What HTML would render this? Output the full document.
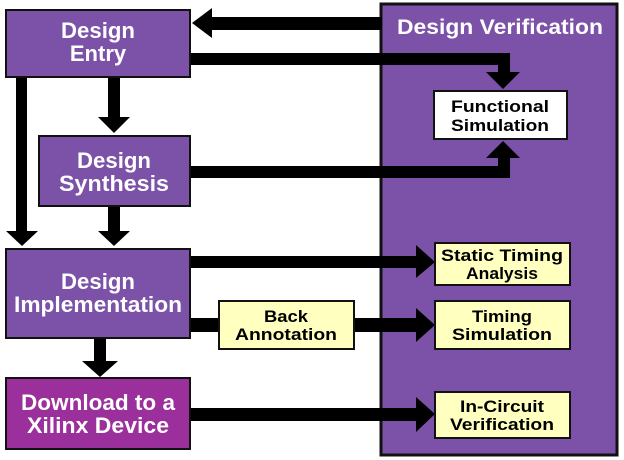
<!DOCTYPE html>
<html><head><style>body{margin:0;background:#fff}svg{display:block}</style></head><body>
<svg width="624" height="460" viewBox="0 0 624 460" xmlns="http://www.w3.org/2000/svg" font-family="Liberation Sans, sans-serif" font-weight="bold" text-anchor="middle">
<rect x="381" y="4" width="236" height="451" fill="#7b52a8" stroke="#111" stroke-width="3"/>
<text x="500" y="34" fill="#fff" font-size="21" textLength="206" lengthAdjust="spacingAndGlyphs">Design Verification</text>
<g fill="#000">
<rect x="210" y="17" width="172" height="13"/><polygon points="192,23 212,8 212,38"/>
<rect x="190" y="53" width="320" height="12"/><rect x="498" y="53" width="12" height="22"/><polygon points="486,72 520,72 503,89"/>
<rect x="190" y="166" width="320" height="12"/><rect x="498" y="156" width="12" height="22"/><polygon points="486,158 520,158 503,141"/>
<rect x="16" y="77" width="11" height="157"/><polygon points="6,231 38,231 22,246"/>
<rect x="108" y="77" width="12" height="43"/><polygon points="98,117 130,117 114,133"/>
<rect x="108" y="206" width="12" height="28"/><polygon points="98,231 130,231 114,246"/>
<rect x="190" y="256" width="230" height="12"/><polygon points="416,245 416,278 435,262"/>
<rect x="190" y="318" width="230" height="14"/><polygon points="416,308 416,342 435,325"/>
<rect x="94" y="338" width="12" height="26"/><polygon points="82,361 118,361 100,377"/>
<rect x="190" y="408" width="230" height="13"/><polygon points="416,397 416,432 435,414"/>
</g>
<g stroke="#111" stroke-width="2">
<rect x="6" y="10" width="184" height="67" fill="#7b52a8"/>
<rect x="39" y="136" width="151" height="70" fill="#7b52a8"/>
<rect x="6" y="249" width="184" height="89" fill="#7b52a8"/>
<rect x="6" y="378" width="184" height="71" fill="#9b2f9b"/>
<rect x="434" y="91" width="133" height="48" fill="#fff"/>
<rect x="435" y="243" width="135" height="42" fill="#ffffc0"/>
<rect x="219" y="301" width="135" height="48" fill="#ffffc0"/>
<rect x="435" y="301" width="135" height="48" fill="#ffffc0"/>
<rect x="435" y="392" width="135" height="46" fill="#ffffc0"/>
</g>
<g fill="#fff" font-size="22">
<text x="98" y="38" textLength="74" lengthAdjust="spacingAndGlyphs">Design</text><text x="98" y="61">Entry</text>
<text x="114" y="168" textLength="74" lengthAdjust="spacingAndGlyphs">Design</text><text x="114" y="191" textLength="110" lengthAdjust="spacingAndGlyphs">Synthesis</text>
<text x="98" y="289" textLength="74" lengthAdjust="spacingAndGlyphs">Design</text><text x="98" y="312" textLength="168" lengthAdjust="spacingAndGlyphs">Implementation</text>
<text x="98" y="410" textLength="154" lengthAdjust="spacingAndGlyphs">Download to a</text><text x="98" y="433" textLength="142" lengthAdjust="spacingAndGlyphs">Xilinx Device</text>
</g>
<g fill="#000" font-size="17">
<text x="500" y="112" textLength="98" lengthAdjust="spacingAndGlyphs">Functional</text><text x="500" y="131" textLength="98" lengthAdjust="spacingAndGlyphs">Simulation</text>
<text x="502" y="261" textLength="122" lengthAdjust="spacingAndGlyphs">Static Timing</text><text x="502" y="279" textLength="72" lengthAdjust="spacingAndGlyphs">Analysis</text>
<text x="286" y="322" textLength="44" lengthAdjust="spacingAndGlyphs">Back</text><text x="286" y="340" textLength="102" lengthAdjust="spacingAndGlyphs">Annotation</text>
<text x="502" y="322" textLength="60" lengthAdjust="spacingAndGlyphs">Timing</text><text x="502" y="340" textLength="100" lengthAdjust="spacingAndGlyphs">Simulation</text>
<text x="502" y="412" textLength="84" lengthAdjust="spacingAndGlyphs">In-Circuit</text><text x="502" y="430" textLength="104" lengthAdjust="spacingAndGlyphs">Verification</text>
</g>
</svg>
</body></html>
